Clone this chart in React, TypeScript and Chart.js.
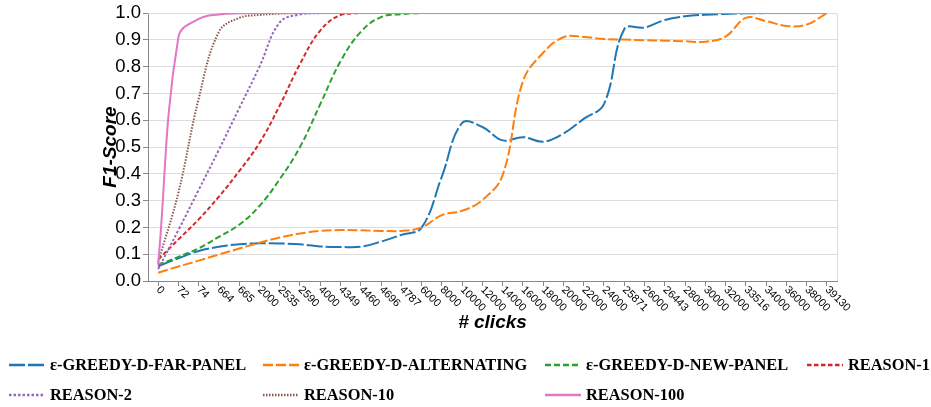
import React, { useEffect, useRef } from "react";
import { Chart, registerables } from "chart.js";

Chart.register(...registerables);

// ---- data ----
const clicks = [
  "0", "72", "74", "664", "665", "2000", "2535", "2590", "4000", "4349", "4460", "4696", "4787",
  "6000", "8000", "10000", "12000", "14000", "16000", "18000", "20000", "22000", "24000", "25871",
  "26000", "26443", "28000", "30000", "32000", "33516", "34000", "36000", "38000", "39130",
];

const farPanel = [
  0.055, 0.085, 0.112, 0.128, 0.137, 0.141, 0.14, 0.137, 0.129, 0.127, 0.128, 0.147, 0.172,
  0.199, 0.39, 0.59, 0.575, 0.525, 0.537, 0.52, 0.55, 0.605, 0.66, 0.94,
  0.946, 0.974, 0.988, 0.994, 0.997, 0.999, 1, 1, 1, 1,
];
const alternating = [
  0.031, 0.054, 0.076, 0.099, 0.121, 0.143, 0.162, 0.177, 0.187, 0.19, 0.189, 0.187, 0.187,
  0.2, 0.246, 0.262, 0.302, 0.395, 0.745, 0.852, 0.91, 0.911, 0.903, 0.901,
  0.899, 0.897, 0.895, 0.893, 0.912, 0.982, 0.97, 0.952, 0.957, 1.0,
];
const newPanel = [
  0.06, 0.09, 0.122, 0.165, 0.21, 0.28, 0.38, 0.5, 0.66, 0.82, 0.93, 0.985, 0.996,
  1, 1, 1, 1, 1, 1, 1, 1, 1, 1, 1, 1, 1, 1, 1, 1, 1, 1, 1, 1, 1,
];
const reason1 = [
  0.08, 0.155, 0.23, 0.315, 0.41, 0.515, 0.655, 0.81, 0.935, 0.993, 1, 1, 1,
  1, 1, 1, 1, 1, 1, 1, 1, 1, 1, 1, 1, 1, 1, 1, 1, 1, 1, 1, 1, 1,
];
const reason2 = [
  0.045, 0.19, 0.34, 0.49, 0.645, 0.8, 0.965, 0.995, 1, 1, 1, 1, 1,
  1, 1, 1, 1, 1, 1, 1, 1, 1, 1, 1, 1, 1, 1, 1, 1, 1, 1, 1, 1, 1,
];
const reason10 = [
  0.07, 0.33, 0.68, 0.93, 0.982, 0.993, 0.998, 1, 1, 1, 1, 1, 1,
  1, 1, 1, 1, 1, 1, 1, 1, 1, 1, 1, 1, 1, 1, 1, 1, 1, 1, 1, 1, 1,
];
const reason100 = [
  0.06, 0.91, 0.978, 0.995, 0.999, 1, 1, 1, 1, 1, 1, 1, 1,
  1, 1, 1, 1, 1, 1, 1, 1, 1, 1, 1, 1, 1, 1, 1, 1, 1, 1, 1, 1, 1,
];

const seriesNames = [
  "ε-GREEDY-D-FAR-PANEL",
  "ε-GREEDY-D-ALTERNATING",
  "ε-GREEDY-D-NEW-PANEL",
  "REASON-1",
  "REASON-2",
  "REASON-10",
  "REASON-100",
];
const seriesColors = ["#1f77b4", "#ff7f0e", "#2ca02c", "#d62728", "#9467bd", "#8c564b", "#e377c2"];
const seriesDashes: number[][] = [[16, 3], [10, 3], [6, 3], [4.5, 2.5], [2.5, 2], [1.5, 1.5], []];

const yTicks = [0, 0.1, 0.2, 0.3, 0.4, 0.5, 0.6, 0.7, 0.8, 0.9, 1.0];

export default function App() {
  const ref = useRef<HTMLCanvasElement>(null);

  useEffect(() => {
    const canvas = ref.current;
    if (!canvas) return;
    const SANS = "'Liberation Sans', Arial, Helvetica, sans-serif";
    const SERIF = "'Liberation Serif', 'Times New Roman', serif";
    const values = [farPanel, alternating, newPanel, reason1, reason2, reason10, reason100];

    const datasets = seriesNames.map((name, i) => ({
      label: name,
      data: values[i],
      borderColor: seriesColors[i],
      backgroundColor: seriesColors[i],
      borderDash: seriesDashes[i],
      borderWidth: 2,
      pointRadius: 0,
      pointHoverRadius: 0,
      tension: 0.4,
      fill: false,
      order: seriesNames.length - i,
    }));

    const framePlugin = {
      id: "frame",
      beforeDatasetsDraw(chart: any) {
        const { ctx, chartArea } = chart;
        ctx.save();
        ctx.strokeStyle = "#dddddd";
        ctx.lineWidth = 1;
        ctx.beginPath();
        ctx.moveTo(chartArea.left, chartArea.top + 0.5);
        ctx.lineTo(chartArea.right + 0.5, chartArea.top + 0.5);
        ctx.lineTo(chartArea.right + 0.5, chartArea.bottom);
        ctx.stroke();
        ctx.restore();
      },
    };

    const xLabelPlugin = {
      id: "xLabels",
      afterDraw(chart: any) {
        const { ctx } = chart;
        const xs = chart.scales.x;
        ctx.save();
        ctx.font = `11px ${SANS}`;
        ctx.fillStyle = "#000";
        ctx.textAlign = "left";
        ctx.textBaseline = "middle";
        clicks.forEach((lab, i) => {
          const x = xs.getPixelForTick(i);
          const y = xs.top + 7;
          ctx.save();
          ctx.translate(x, y);
          ctx.rotate(Math.PI / 4);
          ctx.fillText(lab, 0, 0);
          ctx.restore();
        });
        ctx.restore();
      },
    };

    const legendPlugin = {
      id: "gridLegend",
      afterDraw(chart: any) {
        const { ctx } = chart;
        const cols = 4;
        const symLen = 36;
        const gap = 5;
        const colX = [9, 263, 545, 807];
        const rowY = [365, 395];
        ctx.save();
        ctx.font = `bold 16.4px ${SERIF}`;
        chart.data.datasets.forEach((d: any, i: number) => {
          const c = i % cols;
          const r = Math.floor(i / cols);
          const x = colX[c];
          const y = rowY[r];
          ctx.save();
          ctx.strokeStyle = d.borderColor;
          ctx.lineWidth = 2.5;
          ctx.setLineDash(d.borderDash || []);
          ctx.beginPath();
          ctx.moveTo(x, y);
          ctx.lineTo(x + symLen, y);
          ctx.stroke();
          ctx.restore();
          ctx.fillStyle = "#000";
          ctx.textAlign = "left";
          ctx.textBaseline = "middle";
          ctx.fillText(d.label, x + symLen + gap, y + 1);
        });
        ctx.restore();
      },
    };

    const chart = new Chart(canvas, {
      type: "line",
      data: { labels: clicks, datasets: datasets as any },
      options: {
        responsive: false,
        animation: false,
        events: [],
        layout: { padding: { left: 99, right: 94, top: 13, bottom: 73 } },
        plugins: {
          legend: { display: false },
          tooltip: { enabled: false },
          title: { display: false },
        },
        scales: {
          x: {
            type: "category",
            offset: true,
            ticks: { display: false },
            grid: {
              display: true,
              drawOnChartArea: false,
              drawTicks: true,
              tickLength: 5,
              tickColor: "#888888",
              offset: false,
            },
            border: { display: true, color: "#888888", width: 1 },
            title: {
              display: true,
              text: "# clicks",
              color: "#000",
              font: { family: SANS, size: 19, weight: "bold", style: "italic" },
              padding: 0,
            },
            afterFit(scale: any) {
              scale.height = 53;
            },
          },
          y: {
            type: "linear",
            min: 0,
            max: 1,
            afterBuildTicks(scale: any) {
              scale.ticks = yTicks.map((v) => ({ value: v }));
            },
            ticks: {
              color: "#000",
              padding: 2,
              font: { family: SANS, size: 18.5 },
              callback: (v: any) => Number(v).toFixed(1),
            },
            grid: {
              color: "#dddddd",
              tickColor: "#888888",
              tickLength: 5,
              drawTicks: true,
            },
            border: { display: true, color: "#888888", width: 1 },
            title: {
              display: true,
              text: "F1-Score",
              color: "#000",
              font: { family: SANS, size: 19, weight: "bold", style: "italic" },
              padding: 0,
            },
            afterFit(scale: any) {
              scale.width = 49;
            },
          },
        },
      } as any,
      plugins: [framePlugin, xLabelPlugin, legendPlugin],
    });

    return () => chart.destroy();
  }, []);

  return (
    <div style={{ position: "fixed", left: 0, top: 0, width: 931, height: 407, background: "#fff" }}>
      <canvas ref={ref} width={931} height={407} style={{ display: "block" }} />
    </div>
  );
}
